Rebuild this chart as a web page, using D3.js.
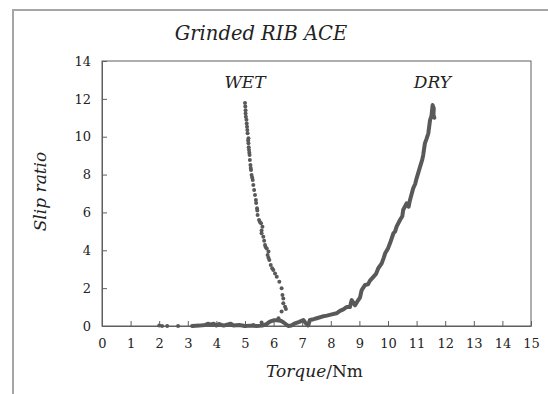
<!DOCTYPE html>
<html>
<head>
<meta charset="utf-8">
<script src="https://cdn.jsdelivr.net/npm/d3@7"></script>
<style>
  body { margin: 0; background: #fff; }
  svg text { font-family: "DejaVu Serif", "Liberation Serif", serif; fill: #222; }
</style>
</head>
<body>
<div id="chart"></div>
<script>
// ---- data ----
const xTicks = [0, 1, 2, 3, 4, 5, 6, 7, 8, 9, 10, 11, 12, 13, 14, 15];
const yTicks = [0, 2, 4, 6, 8, 10, 12, 14];

// WET: drawn as markers only
const wetTorque = [5.0, 5.01, 5.02, 5.02, 5.03, 5.05, 5.06, 5.07, 5.08, 5.09, 5.12, 5.11, 5.12, 5.13, 5.14, 5.15, 5.16, 5.17, 5.19, 5.2,
  5.21, 5.23, 5.25, 5.27, 5.29, 5.32, 5.35, 5.38, 5.39, 5.42, 5.43, 5.44, 5.49, 5.52, 5.56, 5.61, 5.58, 5.58, 5.64, 5.67,
  5.7, 5.72, 5.76, 5.82, 5.79, 5.82, 5.85, 5.9, 5.95, 5.99, 6.05, 6.11, 6.2, 6.28, 6.31, 6.34, 6.34, 6.4, 6.43, 6.28,
  6.17, 5.58, 5.29, 5.0, 4.5, 4.1, 3.8, 2.66, 2.28, 2.1, 2.0];
const wetSlip = [11.78, 11.6, 11.4, 11.23, 11.06, 10.9, 10.7, 10.53, 10.35, 10.18, 9.92, 9.8, 9.65, 9.45, 9.3, 9.15, 9.03, 8.77, 8.5, 8.35,
  8.24, 7.98, 7.85, 7.71, 7.45, 7.18, 6.92, 6.66, 6.5, 6.22, 6.1, 5.86, 5.6, 5.5, 5.43, 5.25, 5.05, 4.9, 4.72, 4.5,
  4.28, 4.18, 4.1, 3.93, 3.75, 3.6, 3.49, 3.22, 3.05, 2.96, 2.78, 2.6, 2.34, 1.99, 1.64, 1.45, 1.2, 1.02, 0.9, 0.76,
  0.41, 0.19, 0.05, 0.0, 0.05, 0.08, 0.06, 0.0, 0.0, 0.0, 0.02];

// DRY: drawn as a thick line
const dryTorque = [3.15, 3.4, 3.6, 3.7, 3.8, 3.9, 4.0, 4.1, 4.25, 4.4, 4.5, 4.6, 4.8, 5.0, 5.2, 5.4, 5.6, 5.75, 5.87, 6.0,
  6.11, 6.25, 6.34, 6.51, 6.62, 6.75, 6.9, 7.04, 7.13, 7.21, 7.27, 7.4, 7.51, 7.7, 7.86, 8.0, 8.2, 8.32, 8.44, 8.55,
  8.67, 8.73, 8.8, 8.85, 8.96, 9.02, 9.08, 9.2, 9.3, 9.37, 9.49, 9.58, 9.66, 9.78, 9.85, 9.9, 10.0, 10.07, 10.19, 10.25,
  10.3, 10.42, 10.5, 10.53, 10.65, 10.72, 10.77, 10.88, 10.95, 11.0, 11.12, 11.2, 11.23, 11.29, 11.35, 11.41, 11.47, 11.52, 11.56, 11.6,
  11.59, 11.62];
const drySlip = [0, 0.02, 0.05, 0.12, 0.06, 0.12, 0.03, 0.1, 0.02, 0.08, 0.12, 0.03, 0.05, 0, 0.02, 0, 0.02, 0.1, 0.23, 0.3,
  0.3, 0.28, 0.2, 0, 0.03, 0.14, 0.22, 0.32, 0.14, 0.03, 0.32, 0.36, 0.41, 0.5, 0.55, 0.6, 0.67, 0.8, 0.88, 1.0,
  1.0, 1.37, 1.2, 1.1, 1.37, 1.5, 1.9, 2.17, 2.2, 2.4, 2.6, 2.75, 3.05, 3.31, 3.6, 3.84, 4.1, 4.37, 4.9, 5.0,
  5.25, 5.6, 5.8, 6.13, 6.48, 6.3, 6.66, 7.27, 7.5, 7.8, 8.41, 8.8, 9.03, 9.65, 9.9, 10.18, 10.88, 11.1, 11.67, 11.5,
  11.15, 11.0];

const seriesLabels = [
  { name: "WET", x: 5.0, y: 12.6 },
  { name: "DRY", x: 11.55, y: 12.6 }
];

// ---- layout ----
const W = 548, H = 394;
const margin = { left: 102, top: 61, right: 17, bottom: 68 };
const innerW = W - margin.left - margin.right;
const innerH = H - margin.top - margin.bottom;

const svg = d3.select("#chart").append("svg")
  .attr("width", W)
  .attr("height", H);

svg.append("rect").attr("width", W).attr("height", H).attr("fill", "#fff");

// outer chart-area frame (extends past the right/bottom edges)
svg.append("rect")
  .attr("x", 13).attr("y", 10)
  .attr("width", W + 20).attr("height", H + 20)
  .attr("fill", "none")
  .attr("stroke", "#a6a6a6")
  .attr("stroke-width", 2);

const x = d3.scaleLinear().domain([0, 15]).range([0, innerW]);
const y = d3.scaleLinear().domain([0, 14]).range([innerH, 0]);

const g = svg.append("g").attr("transform", `translate(${margin.left},${margin.top})`);

// plot frame
g.append("rect")
  .attr("width", innerW).attr("height", innerH)
  .attr("fill", "none")
  .attr("stroke", "#5f5f5f")
  .attr("stroke-width", 1);

// axes: ticks point inwards
const xAxis = g.append("g")
  .attr("transform", `translate(0,${innerH})`)
  .call(d3.axisBottom(x).tickValues(xTicks).tickSizeInner(-5).tickSizeOuter(0).tickPadding(13));
const yAxis = g.append("g")
  .call(d3.axisLeft(y).tickValues(yTicks).tickSizeInner(-5).tickSizeOuter(0).tickPadding(11));

[xAxis, yAxis].forEach(a => {
  a.select(".domain").attr("stroke", "#5f5f5f");
  a.selectAll(".tick line").attr("stroke", "#5f5f5f");
  a.selectAll(".tick text")
    .attr("font-family", "DejaVu Serif")
    .attr("font-size", 13)
    .attr("fill", "#1a1a1a");
});

// DRY line
const dry = dryTorque.map((t, i) => [t, drySlip[i]]);
g.append("path")
  .datum(dry)
  .attr("fill", "none")
  .attr("stroke", "#595959")
  .attr("stroke-width", 4)
  .attr("stroke-linejoin", "round")
  .attr("stroke-linecap", "round")
  .attr("d", d3.line().x(d => x(d[0])).y(d => y(d[1])));

// WET markers
const wet = wetTorque.map((t, i) => [t, wetSlip[i]]);
g.append("g").selectAll("circle")
  .data(wet)
  .join("circle")
  .attr("cx", d => x(d[0]))
  .attr("cy", d => y(d[1]))
  .attr("r", 2)
  .attr("fill", "#595959");

// series labels
g.selectAll("text.series")
  .data(seriesLabels)
  .join("text")
  .attr("class", "series")
  .attr("x", d => x(d.x))
  .attr("y", d => y(d.y))
  .attr("text-anchor", "middle")
  .attr("font-style", "italic")
  .attr("font-size", 17)
  .text(d => d.name);

// title
svg.append("text")
  .attr("x", 261).attr("y", 40)
  .attr("text-anchor", "middle")
  .attr("font-style", "italic")
  .attr("font-size", 19.5)
  .text("Grinded RIB ACE");

// axis titles
const xt = svg.append("text")
  .attr("x", margin.left + innerW / 2 - 2).attr("y", 377)
  .attr("text-anchor", "middle")
  .attr("font-size", 17);
xt.append("tspan").attr("font-style", "italic").text("Torque");
xt.append("tspan").text("/Nm");

svg.append("text")
  .attr("transform", `translate(46,${margin.top + innerH / 2 - 2}) rotate(-90)`)
  .attr("text-anchor", "middle")
  .attr("font-style", "italic")
  .attr("font-size", 17)
  .text("Slip ratio");
</script>
</body>
</html>
